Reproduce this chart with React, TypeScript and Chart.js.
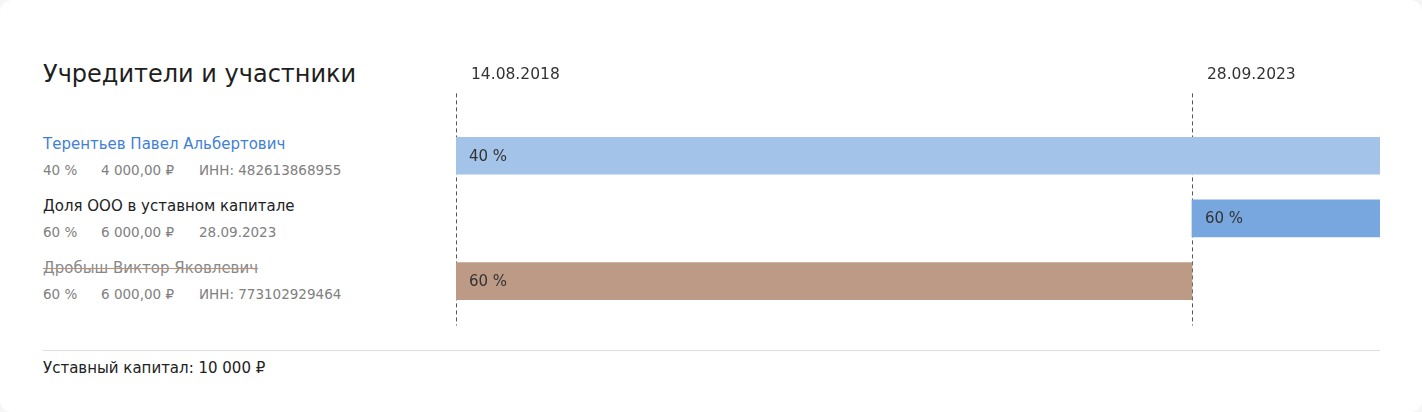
import React, { useEffect, useRef } from "react";
import { Chart, registerables } from "chart.js";

Chart.register(...registerables);

// ---- data ----
const PARTICIPANTS = [
  "Терентьев Павел Альбертович",
  "Доля ООО в уставном капитале",
  "Дробыш Виктор Яковлевич",
];
const SHARE_PCT = ["40 %", "60 %", "60 %"];
const SHARE_RUB = ["4 000,00 ₽", "6 000,00 ₽", "6 000,00 ₽"];
const EXTRA_INFO = ["ИНН: 482613868955", "28.09.2023", "ИНН: 773102929464"];
const START_DATES = ["2018-08-14", "2023-09-28", "2018-08-14"];
const END_DATES = ["2025-01-18", "2025-01-18", "2023-09-28"];
const TICK_DATES = ["2018-08-14", "2023-09-28"];
const BAR_COLORS = ["#a3c3e8", "#78a7e0", "#bd9a86"];
const TITLE = "Учредители и участники";
const FOOTER = "Уставный капитал: 10 000 ₽";

const FONT = "'DejaVu Sans', Inter, sans-serif";

const toTs = (s: string) => Date.parse(s + "T00:00:00Z");
const fmt = (v: number) => {
  const d = new Date(v);
  const dd = String(d.getUTCDate()).padStart(2, "0");
  const mm = String(d.getUTCMonth() + 1).padStart(2, "0");
  return `${dd}.${mm}.${d.getUTCFullYear()}`;
};

const dateLines = {
  id: "dateLines",
  beforeDatasetsDraw(chart: any) {
    const { ctx, chartArea, scales } = chart;
    const x = scales.x;
    ctx.save();
    ctx.strokeStyle = "#555";
    ctx.lineWidth = 1;
    ctx.setLineDash([4, 3]);
    TICK_DATES.forEach((d) => {
      const px = Math.round(x.getPixelForValue(toTs(d))) + 0.5;
      ctx.beginPath();
      ctx.moveTo(px, chartArea.top - 31);
      ctx.lineTo(px, chartArea.bottom + 13);
      ctx.stroke();
    });
    ctx.restore();
  },
};

const barLabels = {
  id: "barLabels",
  afterDatasetsDraw(chart: any) {
    const { ctx } = chart;
    const meta = chart.getDatasetMeta(0);
    ctx.save();
    ctx.fillStyle = "#333";
    ctx.font = `15px ${FONT}`;
    ctx.textBaseline = "middle";
    ctx.textAlign = "left";
    meta.data.forEach((bar: any, i: number) => {
      const left = Math.min(bar.x, bar.base);
      ctx.fillText(SHARE_PCT[i], left + 13, bar.y + 1);
    });
    ctx.restore();
  },
};

function Timeline() {
  const ref = useRef<HTMLCanvasElement>(null);
  useEffect(() => {
    if (!ref.current) return;
    const chart = new Chart(ref.current, {
      type: "bar",
      data: {
        labels: PARTICIPANTS,
        datasets: [
          {
            data: START_DATES.map((s, i) => [toTs(s), toTs(END_DATES[i])]) as any,
            backgroundColor: BAR_COLORS,
            barThickness: 37,
            borderWidth: 0,
          },
        ],
      },
      options: {
        indexAxis: "y",
        animation: false,
        responsive: false,
        maintainAspectRatio: false,
        layout: { padding: { left: 16, right: 20, top: 65.4, bottom: 27.5 } },
        plugins: { legend: { display: false }, tooltip: { enabled: false } },
        scales: {
          x: {
            type: "linear",
            position: "top",
            min: toTs(START_DATES[0]),
            max: toTs(END_DATES[0]),
            border: { display: false },
            grid: { display: false, drawTicks: true, tickLength: 40.4 },
            afterBuildTicks: (scale: any) => {
              scale.ticks = TICK_DATES.map((d) => ({ value: toTs(d) }));
            },
            ticks: {
              autoSkip: false,
              maxRotation: 0,
              align: "start",
              labelOffset: 15,
              padding: 0,
              color: "#333",
              font: { family: FONT, size: 15.5 },
              callback: (v: any) => fmt(Number(v)),
            },
          },
          y: {
            display: false,
            grid: { display: false },
          },
        },
      },
      plugins: [dateLines, barLabels],
    });
    return () => chart.destroy();
  }, []);
  return (
    <canvas
      ref={ref}
      width={960}
      height={340}
      style={{ position: "absolute", left: 440, top: 0, width: 960, height: 340 }}
    />
  );
}

export default function App() {
  useEffect(() => {
    document.body.style.margin = "0";
    document.body.style.background = "#f6f6f6";
  }, []);
  const rowBase = [134.8, 197.1, 259.3];
  return (
    <div
      style={{
        position: "relative",
        width: 1422,
        height: 412,
        background: "#fff",
        borderRadius: 12,
        fontFamily: FONT,
        overflow: "hidden",
      }}
    >
      <div
        style={{
          position: "absolute",
          left: 43,
          top: 59.5,
          fontSize: 24,
          lineHeight: 1.2,
          color: "#1e1e1e",
          whiteSpace: "nowrap",
        }}
      >
        {TITLE}
      </div>
      {PARTICIPANTS.map((name, i) => (
        <React.Fragment key={i}>
          <div
            style={{
              position: "absolute",
              left: 43,
              top: rowBase[i],
              fontSize: 15,
              lineHeight: 1.2,
              whiteSpace: "nowrap",
              color: i === 0 ? "#3f7fd4" : i === 1 ? "#222" : "#888",
              textDecoration: i === 2 ? "line-through" : "none",
              textDecorationColor: "#b8917b",
            }}
          >
            {name}
          </div>
          <div
            style={{
              position: "absolute",
              left: 43,
              top: rowBase[i] + 26.7,
              fontSize: 13.5,
              lineHeight: 1.2,
              whiteSpace: "nowrap",
              color: "#808080",
              display: "flex",
            }}
          >
            <span style={{ width: 58 }}>{SHARE_PCT[i]}</span>
            <span style={{ width: 98 }}>{SHARE_RUB[i]}</span>
            <span>{EXTRA_INFO[i]}</span>
          </div>
        </React.Fragment>
      ))}
      <Timeline />
      <div
        style={{
          position: "absolute",
          left: 43,
          top: 350,
          width: 1337,
          height: 1,
          background: "#dedede",
        }}
      />
      <div
        style={{
          position: "absolute",
          left: 43,
          top: 358.5,
          fontSize: 15,
          lineHeight: 1.2,
          color: "#222",
          whiteSpace: "nowrap",
        }}
      >
        {FOOTER}
      </div>
    </div>
  );
}
